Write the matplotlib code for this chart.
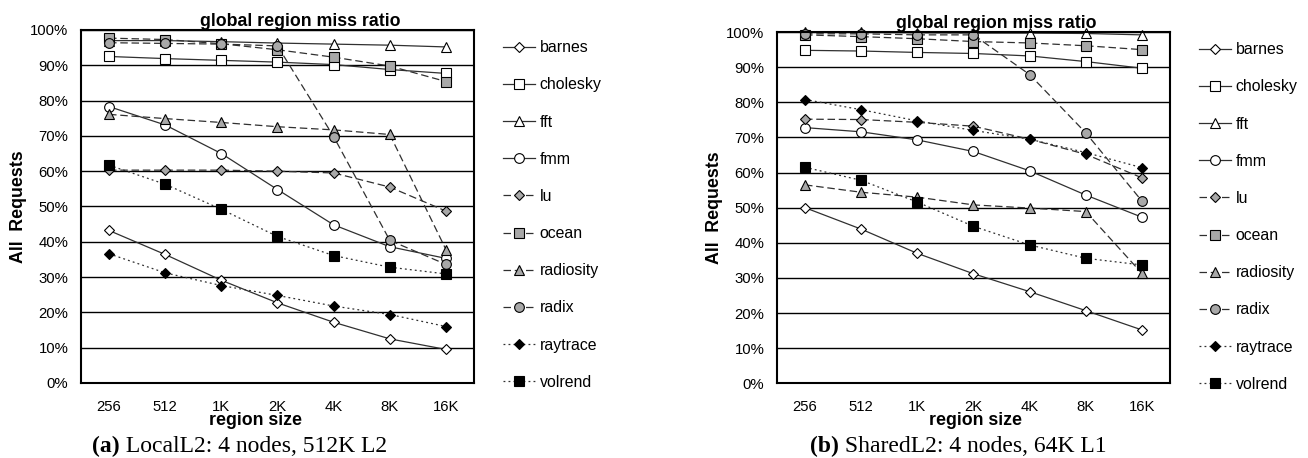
import matplotlib
matplotlib.use('Agg')
import matplotlib.pyplot as plt
from matplotlib.ticker import PercentFormatter

# region sizes on the x axis
region_sizes = ['256', '512', '1K', '2K', '4K', '8K', '16K']
benchmarks = ['barnes', 'cholesky', 'fft', 'fmm', 'lu', 'ocean',
              'radiosity', 'radix', 'raytrace', 'volrend']

# (a) LocalL2: 4 nodes, 512K L2  -- miss ratio in %
local_barnes = [43.2, 36.4, 29.1, 22.7, 17.2, 12.5, 9.5]
local_cholesky = [92.5, 91.9, 91.4, 90.9, 90.2, 88.8, 87.7]
local_fft = [97.0, 97.0, 96.7, 96.3, 96.0, 95.7, 95.2]
local_fmm = [78.3, 73.1, 65.0, 54.8, 44.8, 38.6, 35.3]
local_lu = [60.3, 60.3, 60.3, 60.0, 59.5, 55.5, 48.7]
local_ocean = [97.7, 97.3, 96.1, 94.4, 92.3, 89.8, 85.4]
local_radiosity = [76.1, 74.9, 73.8, 72.6, 71.7, 70.4, 37.8]
local_radix = [96.4, 96.2, 96.0, 95.5, 69.8, 40.4, 33.6]
local_raytrace = [36.6, 31.2, 27.6, 24.8, 21.8, 19.4, 16.0]
local_volrend = [61.7, 56.3, 49.2, 41.5, 36.1, 32.8, 30.9]

# (b) SharedL2: 4 nodes, 64K L1
shared_barnes = [50.0, 43.9, 37.0, 31.2, 26.1, 20.7, 15.2]
shared_cholesky = [94.8, 94.6, 94.2, 93.9, 93.2, 91.6, 89.7]
shared_fft = [99.9, 99.9, 99.8, 99.7, 99.7, 99.6, 99.2]
shared_fmm = [72.8, 71.6, 69.3, 66.0, 60.5, 53.6, 47.3]
shared_lu = [75.2, 75.1, 74.3, 73.2, 69.5, 65.2, 58.5]
shared_ocean = [99.2, 98.7, 98.1, 97.3, 96.9, 96.1, 95.0]
shared_radiosity = [56.5, 54.4, 53.0, 50.8, 49.9, 48.9, 31.3]
shared_radix = [99.5, 99.5, 99.2, 99.2, 87.9, 71.3, 51.9]
shared_raytrace = [80.8, 77.9, 74.7, 72.0, 69.5, 65.7, 61.4]
shared_volrend = [61.5, 57.8, 51.6, 44.7, 39.4, 35.6, 33.7]

local_series = [local_barnes, local_cholesky, local_fft, local_fmm, local_lu,
                local_ocean, local_radiosity, local_radix, local_raytrace, local_volrend]
shared_series = [shared_barnes, shared_cholesky, shared_fft, shared_fmm, shared_lu,
                 shared_ocean, shared_radiosity, shared_radix, shared_raytrace, shared_volrend]

# line style, marker, marker face, marker size for each benchmark
GRAY = '#a8a8a8'
styles = {
    'barnes': ('-', 'D', 'white', 4.6),
    'cholesky': ('-', 's', 'white', 7),
    'fft': ('-', '^', 'white', 7),
    'fmm': ('-', 'o', 'white', 7),
    'lu': ((0, (6, 3)), 'D', GRAY, 4.6),
    'ocean': ((0, (6, 3)), 's', GRAY, 7),
    'radiosity': ((0, (6, 3)), '^', GRAY, 7),
    'radix': ((0, (6, 3)), 'o', GRAY, 7),
    'raytrace': ((0, (1.5, 2.5)), 'D', 'black', 4.6),
    'volrend': ((0, (1.5, 2.5)), 's', 'black', 7),
}

plt.rcParams['font.family'] = ['Liberation Sans', 'DejaVu Sans']

fig = plt.figure(figsize=(13.08, 4.58), dpi=100)
ax1 = fig.add_axes([0.0619, 0.1638, 0.3005, 0.7707])
ax2 = fig.add_axes([0.5940, 0.1630, 0.3005, 0.7670])


def draw_panel(ax, series, xlabel_x):
    for name, vals in zip(benchmarks, series):
        ls, mk, fc, ms = styles[name]
        ax.plot(region_sizes, vals, linestyle=ls, color='#303030', lw=0.9,
                marker=mk, markersize=ms, markerfacecolor=fc,
                markeredgecolor='black', markeredgewidth=0.8, label=name,
                clip_on=False)
    ax.set_xlim(-0.5, 6.5)
    ax.set_ylim(0, 100)
    ax.set_yticks(range(0, 101, 10))
    ax.yaxis.set_major_formatter(PercentFormatter(xmax=100, decimals=0))
    ax.yaxis.grid(True, color='black', lw=1.0)
    ax.set_axisbelow(True)
    ax.tick_params(axis='both', length=0, labelsize=10.7)
    ax.tick_params(axis='x', pad=12)
    ax.tick_params(axis='y', pad=9)
    for sp in ax.spines.values():
        sp.set_linewidth(1.5)
    ax.set_title('global region miss ratio', fontweight='bold', fontsize=12.8,
                 pad=3, x=0.557)
    ax.set_xlabel('region size', fontweight='bold', fontsize=12.8, labelpad=0.5)
    ax.xaxis.set_label_coords(xlabel_x, -0.082)
    ax.set_ylabel('All  Requests', fontweight='bold', fontsize=12.8, labelpad=2.5)
    ax.legend(loc='upper left', bbox_to_anchor=(1.074, 0.971), frameon=False,
              fontsize=11.4, handlelength=2.0, handletextpad=0.3,
              labelspacing=1.4, borderpad=0, borderaxespad=0)


draw_panel(ax1, local_series, 0.445)
draw_panel(ax2, shared_series, 0.505)

# captions below each panel, with the bold panel letter
for x, letter, rest in [(0.0705, '(a)', ' LocalL2: 4 nodes, 512K L2'),
                        (0.6195, '(b)', ' SharedL2: 4 nodes, 64K L1')]:
    t = fig.text(x, 0.002, letter, fontsize=17, fontweight='bold',
                 family='Liberation Serif', ha='left', va='bottom')
    ax1.annotate(rest, xy=(1, 0), xycoords=t, fontsize=17,
                 family='Liberation Serif', ha='left', va='bottom',
                 annotation_clip=False)

fig.savefig('out.png', dpi=100)
